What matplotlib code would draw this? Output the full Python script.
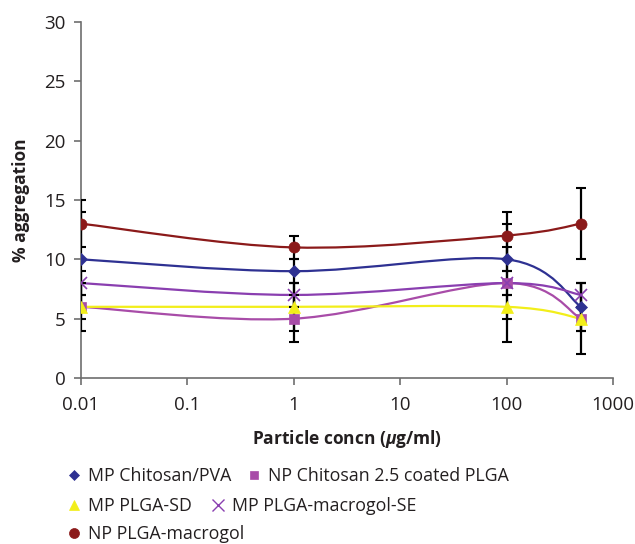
import numpy as np
import matplotlib
matplotlib.use("Agg")
import matplotlib.pyplot as plt
from matplotlib.path import Path
from matplotlib.patches import PathPatch
from matplotlib.lines import Line2D

plt.rcParams['font.family'] = ['Open Sans', 'DejaVu Sans']
plt.rcParams['mathtext.fontset'] = 'custom'
plt.rcParams['mathtext.it'] = 'Open Sans:italic:bold'

# data
conc = [0.01, 1, 100, 500]
names = ["MP Chitosan/PVA", "NP Chitosan 2.5 coated PLGA", "MP PLGA-SD",
         "MP PLGA-macrogol-SE", "NP PLGA-macrogol"]
chitosan_pva = [10, 9, 10, 6]
chitosan_plga = [6, 5, 8, 5]
plga_sd = [6, 6, 6, 5]
plga_macrogol_se = [8, 7, 8, 7]
np_plga_macrogol = [13, 11, 12, 13]

err_chitosan_pva = [4, 1, 1, 2]
err_chitosan_plga = [2, 2, 5, 3]
err_plga_sd = [1, 2, 1, 1]
err_plga_macrogol_se = [1, 1, 1, 1]
err_np_plga_macrogol = [2, 1, 2, 3]

series = [chitosan_pva, chitosan_plga, plga_sd, plga_macrogol_se, np_plga_macrogol]
errors = [err_chitosan_pva, err_chitosan_plga, err_plga_sd, err_plga_macrogol_se, err_np_plga_macrogol]
colors = ['#2e3192', '#a84ca8', '#f2ee1a', '#8a3fb0', '#8b1a1a']
markers = ['D', 's', '^', 'x', 'o']
msizes = [6, 7, 8, 9, 8]


def smooth_path(xs, ys):
    # excel-style smoothed line: catmull-rom bezier in (log x, y)
    pts = np.column_stack([np.log10(xs), ys]).astype(float)
    n = len(pts)
    verts = [pts[0]]
    codes = [Path.MOVETO]
    for i in range(n - 1):
        p0 = pts[max(i - 1, 0)]
        p1 = pts[i]
        p2 = pts[i + 1]
        p3 = pts[min(i + 2, n - 1)]
        verts += [p1 + (p2 - p0) / 6, p2 - (p3 - p1) / 6, p2]
        codes += [Path.CURVE4] * 3
    verts = np.array(verts)
    verts[:, 0] = 10 ** verts[:, 0]
    return Path(verts, codes)


fig = plt.figure(figsize=(6.35, 5.44), dpi=100)
ax = fig.add_axes([0.1276, 0.305, 0.8378, 0.655])

for vals, err, c in zip(series, errors, colors):
    ax.add_patch(PathPatch(smooth_path(conc, vals), facecolor='none',
                           edgecolor=c, linewidth=1.6, zorder=2))
    ax.errorbar(conc, vals, yerr=err, fmt='none', ecolor='black',
                elinewidth=1.6, capsize=3.6, capthick=1.5, zorder=3)

for vals, c, m, ms in zip(series, colors, markers, msizes):
    ax.plot(conc, vals, linestyle='none', marker=m, color=c, markersize=ms,
            markeredgewidth=1.2 if m == 'x' else 0.5, zorder=4)

ax.set_xscale('log')
ax.set_xlim(0.01, 1000)
ax.set_ylim(0, 30)
ax.set_yticks([0, 5, 10, 15, 20, 25, 30])
ax.set_xticks([0.01, 0.1, 1, 10, 100, 1000])
ax.set_xticklabels(['0.01', '0.1', '1', '10', '100', '1000'])
ax.minorticks_off()

for s in ['top', 'right']:
    ax.spines[s].set_visible(False)
for s in ['left', 'bottom']:
    ax.spines[s].set_color('#6e6e6e')
    ax.spines[s].set_linewidth(1.2)
ax.tick_params(colors='#6e6e6e', labelcolor='#231f20', labelsize=13.5,
               length=5, width=1.2)
ax.tick_params(axis='x', pad=8)
ax.tick_params(axis='y', pad=6)

ax.set_xlabel(r'Particle concn ($\mu$g/ml)', fontsize=12.5, fontweight='bold',
              color='#231f20', labelpad=10)
ax.set_ylabel('% aggregation', fontsize=12.5, fontweight='bold',
              color='#231f20', labelpad=10)

# legend rows, flowed like excel
handles = [Line2D([], [], linestyle='none', marker=m, color=c, markersize=ms * 0.9,
                  markeredgewidth=1.0 if m == 'x' else 0.5)
           for c, m, ms in zip(colors, markers, msizes)]
rows = [[0, 1], [2, 3], [4]]
row_y = [0.125, 0.070, 0.018]
row_gap = [0.85, 1.05, 1.0]
for r, y, g in zip(rows, row_y, row_gap):
    leg = fig.legend([handles[i] for i in r], [names[i] for i in r],
                     loc='center left', bbox_to_anchor=(0.105, y), ncol=len(r),
                     frameon=False, fontsize=12.8, handlelength=0.8,
                     handletextpad=0.4, columnspacing=g, borderaxespad=0,
                     borderpad=0)
    for t in leg.get_texts():
        t.set_color('#231f20')

fig.savefig('out.png', dpi=100)
